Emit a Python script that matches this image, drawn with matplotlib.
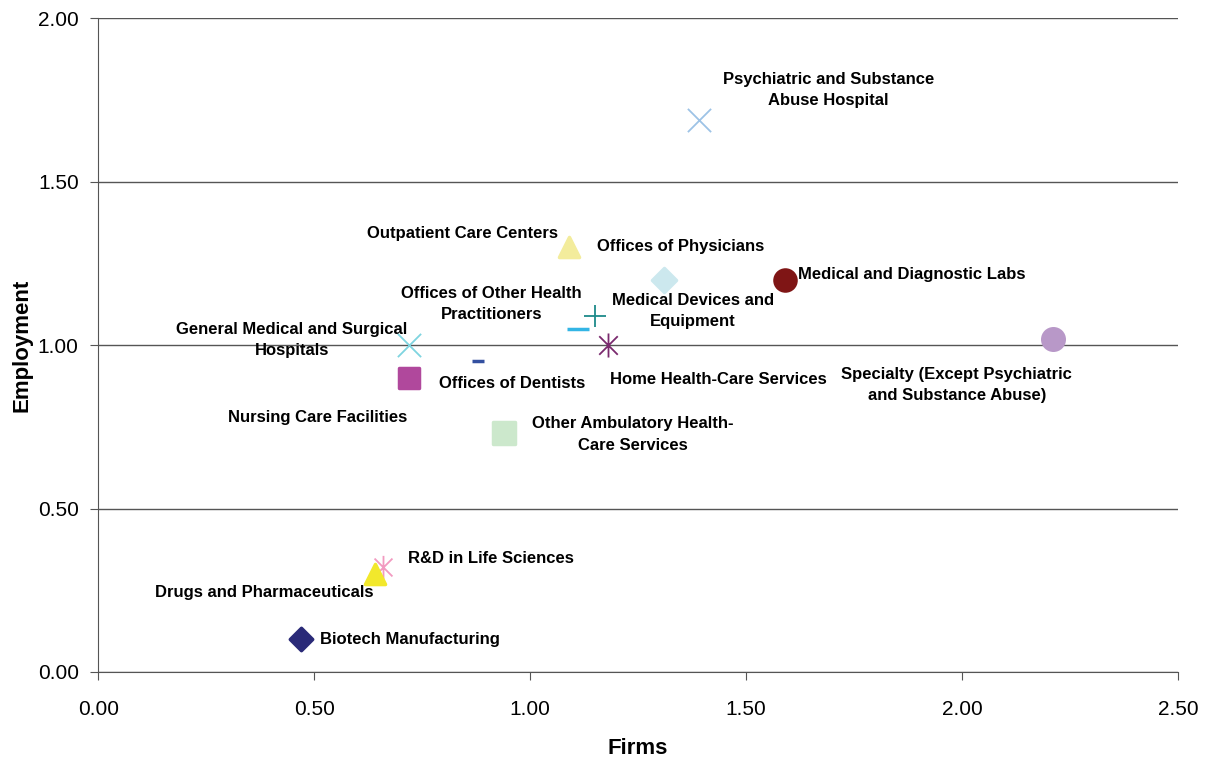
import matplotlib
matplotlib.use("Agg")
import matplotlib.pyplot as plt
from matplotlib.path import Path

plt.rcParams['font.family'] = ['Liberation Sans', 'DejaVu Sans']

# ratio values per industry (firms vs employment)
industries = [
    "Psychiatric and Substance Abuse Hospital",
    "Outpatient Care Centers",
    "Offices of Physicians",
    "Medical and Diagnostic Labs",
    "Medical Devices and Equipment",
    "Offices of Other Health Practitioners",
    "Home Health-Care Services",
    "General Medical and Surgical Hospitals",
    "Offices of Dentists",
    "Nursing Care Facilities",
    "Specialty (Except Psychiatric and Substance Abuse)",
    "Other Ambulatory Health-Care Services",
    "R&D in Life Sciences",
    "Drugs and Pharmaceuticals",
    "Biotech Manufacturing",
]
firms = [1.39, 1.09, 1.31, 1.59, 1.15, 1.11, 1.18, 0.72, 0.88, 0.72, 2.21, 0.94, 0.66, 0.64, 0.47]
employment = [1.69, 1.30, 1.20, 1.20, 1.09, 1.05, 1.00, 1.00, 0.95, 0.90, 1.02, 0.73, 0.32, 0.30, 0.10]

# excel-style star: an X with a vertical bar through it
star = Path([(-1, -1), (1, 1), (-1, 1), (1, -1), (0, -1.3), (0, 1.3)],
            [Path.MOVETO, Path.LINETO, Path.MOVETO, Path.LINETO, Path.MOVETO, Path.LINETO])

markers = ["x", "^", "D", "o", "+", "_", star, "x", "_", "s", "o", "s", star, "^", "D"]
sizes = [280, 210, 150, 230, 230, 260, 300, 280, 80, 200, 240, 240, 280, 210, 130]
colors = ["#9DC3E6", "#F3EC9C", "#CCE8EE", "#7F1515", "#1E8A8A", "#33B5E5", "#7A2A6E",
          "#7FD4E0", "#3350A0", "#B0489C", "#B898C8", "#CCE8CC", "#F29AC0", "#F2E82C", "#2A2A78"]

# label text, anchor position and alignment
labels = [
    ("Psychiatric and Substance\nAbuse Hospital", 1.69, 1.78, "center"),
    ("Outpatient Care Centers", 1.065, 1.341, "right"),
    ("Offices of Physicians", 1.155, 1.302, "left"),
    ("Medical and Diagnostic Labs", 1.62, 1.216, "left"),
    ("Offices of Other Health\nPractitioners", 0.911, 1.126, "center"),
    ("Medical Devices and\nEquipment", 1.377, 1.104, "center"),
    ("General Medical and Surgical\nHospitals", 0.449, 1.015, "center"),
    ("Offices of Dentists", 0.79, 0.882, "left"),
    ("Home Health-Care Services", 1.435, 0.895, "center"),
    ("Specialty (Except Psychiatric\nand Substance Abuse)", 1.988, 0.878, "center"),
    ("Nursing Care Facilities", 0.716, 0.779, "right"),
    ("Other Ambulatory Health-\nCare Services", 1.238, 0.727, "center"),
    ("R&D in Life Sciences", 0.718, 0.346, "left"),
    ("Drugs and Pharmaceuticals", 0.638, 0.242, "right"),
    ("Biotech Manufacturing", 0.514, 0.098, "left"),
]

fig = plt.figure(figsize=(12.12, 7.58), dpi=100)
ax = fig.add_axes([0.081, 0.1135, 0.891, 0.8625])

for i in range(len(industries)):
    m = markers[i]
    lw = 1.3 if (m in ("x", "+") or m is star) else 2.5
    ax.scatter(firms[i], employment[i], marker=m, s=sizes[i], color=colors[i],
               linewidths=lw, zorder=3)

for txt, x, y, ha in labels:
    ax.text(x, y, txt, ha=ha, va="center", fontsize=12, fontweight="bold",
            linespacing=1.55, zorder=4)

ax.set_xlim(0, 2.5)
ax.set_ylim(0, 2.0)
ax.set_xticks([0, 0.5, 1.0, 1.5, 2.0, 2.5])
ax.set_yticks([0, 0.5, 1.0, 1.5, 2.0])
ax.xaxis.set_major_formatter(plt.FormatStrFormatter("%.2f"))
ax.yaxis.set_major_formatter(plt.FormatStrFormatter("%.2f"))
ax.tick_params(labelsize=15, direction="out", length=6, color="#555555")
ax.tick_params(axis="x", pad=14)
ax.tick_params(axis="y", pad=8)
ax.yaxis.grid(True, color="#555555", linewidth=1)
ax.set_axisbelow(True)
for side in ("top", "right"):
    ax.spines[side].set_visible(False)
for side in ("left", "bottom"):
    ax.spines[side].set_color("#555555")

ax.set_xlabel("Firms", fontsize=16, fontweight="bold", labelpad=14)
ax.set_ylabel("Employment", fontsize=16, fontweight="bold", labelpad=4)

fig.savefig("out.png", dpi=100)
